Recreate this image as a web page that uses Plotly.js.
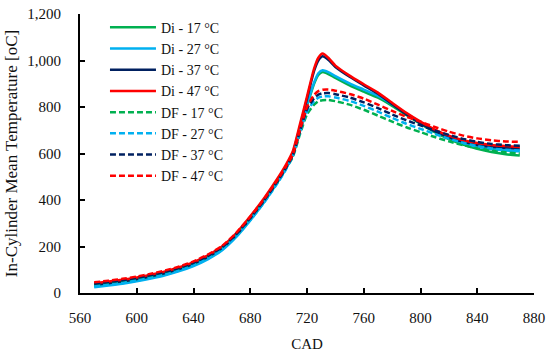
<!DOCTYPE html>
<html>
<head>
<meta charset="utf-8">
<script src="https://cdn.plot.ly/plotly-3.0.1.min.js"></script>
<style>html,body{margin:0;padding:0;background:#fff;}#chart{width:550px;height:354px;}</style>
</head>
<body>
<div id="chart"></div>
<script>
var cad = [570,580,590,600,610,620,630,640,650,660,670,680,690,700,705,710,715,720,725,728,731,735,740,750,760,770,780,790,800,810,820,830,840,850,860,870];

var di17 = [30,37,45,55,67,81,99,121,150,188,245,316,396,487,537,597,700,805,900,938,950,942,925,893,866,840,805,766,727,692,662,638,620,606,597,591];
var di27 = [25,32,40,50,62,76,94,116,145,183,240,312,392,483,533,594,700,810,905,945,958,950,933,902,875,848,812,772,733,698,668,645,629,619,613,610];
var di37 = [35,42,50,60,72,86,104,126,155,193,250,322,402,492,542,602,715,835,955,1000,1018,1003,972,930,893,857,812,768,730,696,670,650,637,629,624,620];
var di47 = [42,49,57,67,79,93,111,133,162,200,257,330,410,500,550,610,725,845,965,1012,1030,1012,978,935,898,862,818,775,737,703,677,657,645,637,632,628];

var df17 = [33,40,48,58,70,84,102,124,153,191,247,318,396,484,534,585,682,768,810,825,829,830,825,810,788,763,737,713,692,671,652,636,623,613,605,600];
var df27 = [28,35,43,53,65,79,97,119,148,186,242,313,391,480,530,588,690,780,825,840,845,846,841,826,805,780,753,728,706,684,664,646,632,622,616,613];
var df37 = [40,47,55,65,77,91,108,130,159,196,252,322,400,488,537,592,695,790,838,853,859,860,855,841,820,795,768,743,721,699,680,663,650,641,636,633];
var df47 = [46,53,61,71,83,97,114,136,165,202,258,328,406,494,543,595,700,800,852,868,874,875,870,856,836,810,783,758,737,714,694,677,665,657,652,650];

var names = ['Di - 17 °C','Di - 27 °C','Di - 37 °C','Di - 47 °C','DF - 17 °C','DF - 27 °C','DF - 37 °C','DF - 47 °C'];
var series = [di17, di27, di37, di47, df17, df27, df37, df47];
var colors = ['#00B050','#00B0F0','#002060','#FF0000','#00B050','#00B0F0','#002060','#FF0000'];
var dashes = ['solid','solid','solid','solid','6px,3px','6px,3px','6px,3px','6px,3px'];

var traces = series.map(function(s, i){
  return {x: cad, y: s, type: 'scatter', mode: 'lines', name: names[i],
    line: {color: colors[i], width: 2.5, dash: dashes[i], shape: 'spline', smoothing: 0.6}};
});

var fam = '"Liberation Serif", "DejaVu Serif", serif';
var font = {family: fam, size: 15, color: '#111'};
var layout = {
  width: 550, height: 354,
  margin: {l: 80, r: 16, t: 12, b: 61},
  paper_bgcolor: '#fff', plot_bgcolor: '#fff',
  font: font,
  showlegend: true,
  legend: {x: 0.055, y: 1.008, xanchor: 'left', yanchor: 'top', bgcolor: 'rgba(0,0,0,0)',
    font: {family: fam, size: 14, color: '#111'}, itemwidth: 46, tracegroupgap: 0},
  xaxis: {range: [560, 880], dtick: 40, tick0: 560, showgrid: false, zeroline: false,
    showline: true, linecolor: '#000', linewidth: 2, ticks: 'inside', ticklen: 5, tickwidth: 2, tickcolor: '#000',
    ticklabelstandoff: 10,
    tickfont: font, title: {text: 'CAD', font: font, standoff: 13}},
  yaxis: {range: [0, 1200], dtick: 200, showgrid: false, zeroline: false, tickformat: ',d',
    showline: true, linecolor: '#000', linewidth: 2, ticks: 'inside', ticklen: 5, tickwidth: 2, tickcolor: '#000',
    ticklabelstandoff: 14,
    tickfont: font, title: {text: 'In-Cylinder Mean Temperature [oC]', font: {family: fam, size: 17, color: '#111'}, standoff: 5}}
};
Plotly.newPlot('chart', traces, layout, {displayModeBar: false, staticPlot: true});
</script>
</body>
</html>
